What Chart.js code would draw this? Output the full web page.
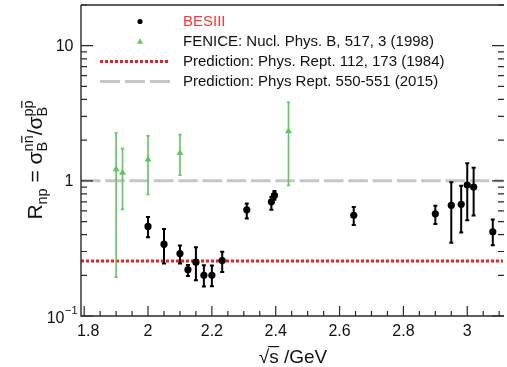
<!DOCTYPE html>
<html>
<head>
<meta charset="utf-8">
<script src="https://cdn.jsdelivr.net/npm/chart.js@4"></script>
<style>
html,body{margin:0;padding:0;background:#fff;}
canvas{display:block;}
</style>
</head>
<body>
<canvas id="c" width="507" height="367"></canvas>
<script>
// ---- data ----
const besiiiX    = [2.0, 2.05, 2.1, 2.125, 2.15, 2.175, 2.2, 2.2324, 2.3094, 2.3864, 2.396, 2.6444, 2.9, 2.95, 2.981, 3.0, 3.02, 3.08];
const besiiiY    = [0.46, 0.34, 0.29, 0.22, 0.25, 0.20, 0.20, 0.257, 0.61, 0.70, 0.78, 0.556, 0.57, 0.66, 0.67, 0.93, 0.90, 0.42];
const besiiiHigh = [0.54, 0.44, 0.333, 0.238, 0.323, 0.237, 0.236, 0.299, 0.68, 0.76, 0.84, 0.64, 0.655, 0.977, 0.918, 1.35, 1.25, 0.517];
const besiiiLow  = [0.383, 0.245, 0.245, 0.198, 0.184, 0.165, 0.166, 0.212, 0.526, 0.612, 0.725, 0.472, 0.48, 0.348, 0.415, 0.511, 0.553, 0.334];

const feniceX    = [1.9, 1.92, 2.0, 2.1, 2.44];
const feniceY    = [1.22, 1.15, 1.44, 1.61, 2.33];
const feniceHigh = [2.26, 1.73, 2.15, 2.20, 3.81];
const feniceLow  = [0.194, 0.615, 0.793, 1.10, 0.924];

const prediction1984 = 0.255;
const prediction2015 = 1.0;

const xRange = [1.79, 3.112];
const yRange = [0.1, 20];
const xMajorTicks = [1.8, 2.0, 2.2, 2.4, 2.6, 2.8, 3.0];
const xTickLabels = ['1.8', '2', '2.2', '2.4', '2.6', '2.8', '3'];
const yMajorTicks = [0.1, 1, 10];
const yTickLabels = ['10^-1', '1', '10'];

const legendLabels = ['BESIII', 'FENICE: Nucl. Phys. B, 517, 3 (1998)', 'Prediction: Phys. Rept. 112, 173 (1984)', 'Prediction: Phys Rept. 550-551 (2015)'];
const xTitle = ['√', 's', ' /GeV'];

// ---- styles ----
const BLACK = '#000000';
const GREEN = '#62c462';
const RED = '#ee1f1f';
const GRAY = '#c6c6c6';
const FONT = '"Liberation Sans", Arial, Helvetica, sans-serif';

function drawErrorBars(chart, xs, lows, highs, color, width, cap) {
  const ctx = chart.ctx, xs_ = chart.scales.x, ys = chart.scales.y;
  const a = chart.chartArea;
  ctx.save();
  ctx.beginPath(); ctx.rect(a.left, a.top, a.right - a.left, a.bottom - a.top); ctx.clip();
  ctx.strokeStyle = color; ctx.lineWidth = width; ctx.lineCap = 'butt';
  xs.forEach((x, i) => {
    const px = xs_.getPixelForValue(x);
    const pLo = ys.getPixelForValue(lows[i]);
    const pHi = ys.getPixelForValue(highs[i]);
    ctx.beginPath();
    ctx.moveTo(px, pLo); ctx.lineTo(px, pHi);
    ctx.moveTo(px - cap, pLo); ctx.lineTo(px + cap, pLo);
    ctx.moveTo(px - cap, pHi); ctx.lineTo(px + cap, pHi);
    ctx.stroke();
  });
  ctx.restore();
}

function drawParts(ctx, parts, x0, y0) {
  let x = x0;
  parts.forEach(p => {
    if (p.stack) {
      let w = 0;
      p.stack.forEach(s => {
        ctx.font = s.size + 'px ' + FONT;
        ctx.fillText(s.t, x, y0 + s.dy);
        const sw = ctx.measureText(s.t).width;
        if (s.bar) {
          const pre = ctx.measureText(s.t.slice(0, s.bar[0])).width;
          const bw = ctx.measureText(s.t.slice(s.bar[0], s.bar[1])).width;
          ctx.fillRect(x + pre + 0.5, y0 + s.dy - s.size * 0.78, bw - 1, 1.2);
        }
        w = Math.max(w, sw);
      });
      x += w;
    } else {
      ctx.font = p.size + 'px ' + FONT;
      ctx.fillText(p.t, x, y0 + (p.dy || 0));
      x += ctx.measureText(p.t).width;
    }
  });
  return x - x0;
}
function measureParts(ctx, parts) {
  let w = 0;
  parts.forEach(p => {
    if (p.stack) {
      let m = 0;
      p.stack.forEach(s => { ctx.font = s.size + 'px ' + FONT; m = Math.max(m, ctx.measureText(s.t).width); });
      w += m;
    } else { ctx.font = p.size + 'px ' + FONT; w += ctx.measureText(p.t).width; }
  });
  return w;
}

const rootStyle = {
  id: 'rootStyle',
  beforeDatasetDraw(chart, args) {
    if (args.index === 0) drawErrorBars(chart, besiiiX, besiiiLow, besiiiHigh, BLACK, 2, 2);
    if (args.index === 1) drawErrorBars(chart, feniceX, feniceLow, feniceHigh, GREEN, 1.6, 1.6);
  },
  afterDraw(chart) {
    const ctx = chart.ctx, a = chart.chartArea, xs = chart.scales.x, ys = chart.scales.y;
    ctx.save();
    // frame (right edge falls at the canvas border)
    ctx.strokeStyle = '#2a2a2a'; ctx.lineWidth = 1.4;
    ctx.beginPath();
    ctx.moveTo(a.left, a.top); ctx.lineTo(a.right + 1, a.top);
    ctx.moveTo(a.left, a.top); ctx.lineTo(a.left, a.bottom); ctx.lineTo(a.right + 1, a.bottom);
    ctx.stroke();
    // y ticks
    ctx.lineWidth = 1.2;
    ctx.beginPath();
    yMajorTicks.forEach(v => {
      const py = ys.getPixelForValue(v);
      ctx.moveTo(a.left, py); ctx.lineTo(a.left + 12, py);
      ctx.moveTo(a.right + 1, py); ctx.lineTo(a.right - 11, py);
      for (let k = 2; k <= 9; k++) {
        const mv = v * k;
        if (mv > yRange[1]) break;
        const my = ys.getPixelForValue(mv);
        ctx.moveTo(a.left, my); ctx.lineTo(a.left + 6, my);
        ctx.moveTo(a.right + 1, my); ctx.lineTo(a.right - 5, my);
      }
    });
    // x ticks
    xMajorTicks.forEach(v => {
      const px = xs.getPixelForValue(v);
      ctx.moveTo(px, a.bottom); ctx.lineTo(px, a.bottom - 10);
      for (let k = 1; k <= 3; k++) {
        const mv = v + 0.05 * k;
        if (mv > xRange[1]) break;
        const mx = xs.getPixelForValue(mv);
        ctx.moveTo(mx, a.bottom); ctx.lineTo(mx, a.bottom - 5);
      }
    });
    ctx.stroke();

    ctx.fillStyle = '#111';
    // x tick labels
    ctx.font = '16px ' + FONT; ctx.textAlign = 'center'; ctx.textBaseline = 'alphabetic';
    xMajorTicks.forEach((v, i) => {
      const px = xs.getPixelForValue(v) + (i === 0 ? 4 : 0);
      ctx.fillText(xTickLabels[i], px, 335.5);
    });
    // y tick labels
    ctx.textBaseline = 'middle';
    yMajorTicks.forEach((v, i) => {
      const py = ys.getPixelForValue(v);
      const lab = yTickLabels[i];
      if (lab.indexOf('^') >= 0) {
        const [base, ex] = lab.split('^');
        ctx.font = '11px ' + FONT; ctx.textAlign = 'right';
        const exTxt = ex.replace('-', '\u2212');
        ctx.fillText(exTxt, 77.5, py - 5);
        const ew = ctx.measureText(exTxt).width;
        ctx.font = '16px ' + FONT;
        ctx.fillText(base, 77.5 - ew - 0.5, py + 3);
      } else {
        ctx.font = '16px ' + FONT; ctx.textAlign = 'right';
        ctx.fillText(lab, 73.5, py + 1);
      }
    });

    // x title: √s /GeV with overline
    ctx.textAlign = 'left'; ctx.textBaseline = 'alphabetic';
    ctx.font = '19px ' + FONT;
    const wR = ctx.measureText(xTitle[0]).width;
    const wS = ctx.measureText(xTitle[1]).width;
    const wG = ctx.measureText(xTitle[2]).width;
    const tot = wR + wS + wG;
    let tx = 293 - tot / 2;
    const base = 362.5;
    ctx.fillText(xTitle[0], tx, base);
    ctx.fillText(xTitle[1], tx + wR, base);
    ctx.fillRect(tx + wR - 1, base - 16.5, wS + 1.5, 1.2);
    ctx.fillText(xTitle[2], tx + wR + wS, base);

    // y title (rotated)
    ctx.save();
    ctx.translate(42, 160);
    ctx.rotate(-Math.PI / 2);
    const parts = [
      { t: 'R', size: 21 },
      { t: 'np', size: 14.5, dy: 5 },
      { t: ' = \u03c3', size: 21 },
      { stack: [{ t: 'B', size: 14.5, dy: 5 }, { t: 'nn', size: 14.5, dy: -9.5, bar: [1, 2] }] },
      { t: '/\u03c3', size: 21 },
      { stack: [{ t: 'B', size: 14.5, dy: 5 }, { t: 'pp', size: 14.5, dy: -9.5, bar: [1, 2] }] }
    ];
    const tw = measureParts(ctx, parts);
    ctx.textBaseline = 'alphabetic';
    drawParts(ctx, parts, -tw / 2, 0);
    ctx.restore();

    // legend
    const rows = [21.5, 41.5, 61.5, 81.5];
    const mx = 140, txL = 183;
    ctx.fillStyle = BLACK;
    ctx.beginPath(); ctx.arc(mx, rows[0], 2.6, 0, Math.PI * 2); ctx.fill();
    ctx.fillStyle = GREEN;
    ctx.beginPath(); ctx.moveTo(mx, rows[1] - 3.2); ctx.lineTo(mx + 3, rows[1] + 2.2); ctx.lineTo(mx - 3, rows[1] + 2.2); ctx.closePath(); ctx.fill();
    ctx.lineWidth = 3;
    ctx.strokeStyle = RED; ctx.setLineDash([3, 2]);
    ctx.beginPath(); ctx.moveTo(100, rows[2]); ctx.lineTo(170, rows[2]); ctx.stroke();
    ctx.strokeStyle = GRAY; ctx.setLineDash([20, 5]);
    ctx.beginPath(); ctx.moveTo(100, rows[3]); ctx.lineTo(170, rows[3]); ctx.stroke();
    ctx.setLineDash([]);
    ctx.font = '15px ' + FONT; ctx.textAlign = 'left'; ctx.textBaseline = 'middle';
    legendLabels.forEach((l, i) => {
      ctx.fillStyle = i === 0 ? '#ff3535' : '#111';
      ctx.fillText(l, txL, rows[i] + 0.5);
    });
    ctx.restore();
  }
};

new Chart(document.getElementById('c').getContext('2d'), {
  type: 'scatter',
  data: {
    datasets: [
      { label: legendLabels[0], data: besiiiX.map((x, i) => ({ x: x, y: besiiiY[i] })),
        pointStyle: 'circle', pointRadius: 3.6, backgroundColor: BLACK, borderColor: BLACK, borderWidth: 0, order: 0 },
      { label: legendLabels[1], data: feniceX.map((x, i) => ({ x: x, y: feniceY[i] })),
        pointStyle: 'triangle', pointRadius: 4, backgroundColor: GREEN, borderColor: GREEN, borderWidth: 0, order: 1 },
      { label: legendLabels[2], type: 'line', data: [{ x: xRange[0], y: prediction1984 }, { x: xRange[1], y: prediction1984 }],
        borderColor: RED, borderWidth: 3, borderDash: [3, 2], pointRadius: 0, fill: false, order: 2 },
      { label: legendLabels[3], type: 'line', data: [{ x: xRange[0], y: prediction2015 }, { x: xRange[1], y: prediction2015 }],
        borderColor: GRAY, borderWidth: 3, borderDash: [19.5, 4.8], pointRadius: 0, fill: false, order: 3 }
    ]
  },
  options: {
    responsive: false,
    animation: false,
    devicePixelRatio: 1,
    layout: { padding: { left: 81, right: 0.5, top: 5, bottom: 51 } },
    plugins: { legend: { display: false }, tooltip: { enabled: false } },
    scales: {
      x: { type: 'linear', min: xRange[0], max: xRange[1], display: false },
      y: { type: 'logarithmic', min: yRange[0], max: yRange[1], display: false }
    }
  },
  plugins: [rootStyle]
});
</script>
</body>
</html>
